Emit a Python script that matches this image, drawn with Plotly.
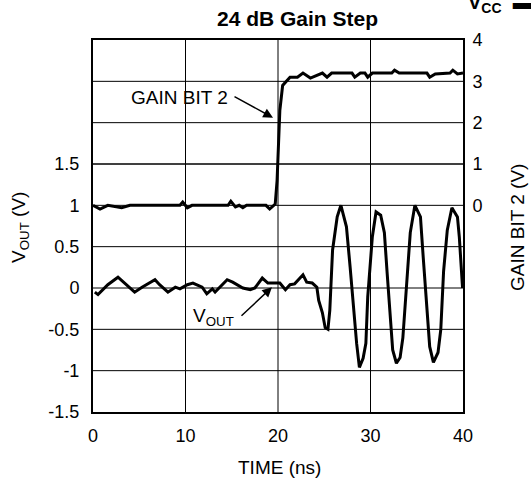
import plotly.graph_objects as go

# VOUT trace (left axis, V) vs time (ns)
vout_t = [0.2, 0.54, 1.6, 2.7, 4.5, 5.3, 6.7, 7.2, 8.1, 8.9, 9.4, 10.2, 10.8, 11.8, 12.3, 12.9,
          13.2, 14.5, 15.1, 16.2, 17.0, 17.5, 18.3, 18.9, 19.4, 20.2, 20.8, 21.3, 21.8, 22.7,
          23.1, 23.7, 24.2, 24.4, 24.8, 25.1, 25.4, 25.6, 25.9, 26.4, 26.8, 27.4, 27.8, 28.1,
          28.5, 28.8, 29.2, 29.5, 29.7, 30.2, 30.6, 31.1, 31.5, 31.8, 32.1, 32.4, 32.8, 33.2,
          33.5, 33.9, 34.3, 34.8, 35.4, 35.7, 36.1, 36.4, 36.8, 37.3, 37.6, 37.9, 38.3, 38.8,
          39.4, 39.6, 39.95]
vout_v = [-0.05, -0.08, 0.04, 0.13, -0.05, 0.01, 0.10, 0.04, -0.05, 0.01, -0.01, 0.04, 0.06,
          0.01, -0.07, -0.01, -0.05, 0.10, 0.07, 0.00, -0.02, 0.00, 0.12, 0.06, 0.06, 0.06,
          -0.02, 0.04, 0.05, 0.16, 0.07, 0.06, 0.01, -0.15, -0.30, -0.48, -0.50, -0.27, 0.46,
          0.86, 1.00, 0.74, 0.25, -0.15, -0.67, -0.96, -0.85, -0.67, -0.11, 0.62, 0.92, 0.88,
          0.67, 0.18, -0.35, -0.75, -0.91, -0.84, -0.60, -0.02, 0.67, 1.00, 0.86, 0.37, -0.23,
          -0.71, -0.90, -0.78, -0.50, 0.20, 0.70, 0.97, 0.86, 0.62, 0.00]

# GAIN BIT 2 trace (right axis, V) vs time (ns)
gain_t = [0.0, 0.76, 1.6, 3.1, 4.0, 9.4, 9.7, 10.2, 10.7, 14.6, 14.9, 15.4, 15.8, 16.2, 16.6,
          18.7, 19.1, 19.7, 19.9, 20.2, 20.5, 21.3, 22.1, 22.7, 23.5, 24.1, 24.8, 25.3, 25.8,
          28.0, 28.3, 28.9, 29.4, 29.7, 30.2, 32.3, 32.6, 33.1, 36.1, 36.4, 37.0, 38.6, 38.9,
          39.4, 40.0]
gain_v = [0.00, -0.09, 0.00, -0.06, 0.00, 0.00, 0.08, -0.06, 0.00, 0.00, 0.10, -0.04, 0.00,
          -0.06, 0.00, 0.00, -0.09, 0.03, 0.60, 2.30, 2.90, 3.10, 3.10, 3.20, 3.08, 3.13, 3.20,
          3.10, 3.20, 3.20, 3.10, 3.20, 3.20, 3.10, 3.20, 3.20, 3.27, 3.20, 3.20, 3.10, 3.18,
          3.20, 3.27, 3.18, 3.20]

x_ticks = [0, 10, 20, 30, 40]
left_ticks = [-1.5, -1, -0.5, 0, 0.5, 1, 1.5]
left_labels = ["-1.5", "-1", "-0.5", "0", "0.5", "1", "1.5"]
right_ticks = [0, 1, 2, 3, 4]

FONT = "Liberation Sans, Arial, sans-serif"

fig = go.Figure()
fig.add_trace(go.Scatter(x=gain_t, y=gain_v, mode="lines", yaxis="y2",
                         line=dict(color="black", width=3), showlegend=False))
fig.add_trace(go.Scatter(x=vout_t, y=vout_v, mode="lines",
                         line=dict(color="black", width=3), showlegend=False))

fig.update_layout(
    width=531, height=482,
    margin=dict(l=93, r=68, t=40, b=70),
    paper_bgcolor="white", plot_bgcolor="white",
    font=dict(family=FONT, size=18, color="black"),
    xaxis=dict(range=[0, 40], tickvals=x_ticks, showgrid=False,
               showline=True, linecolor="black", linewidth=2, mirror=True,
               ticks="outside", ticklen=6, tickcolor="rgba(0,0,0,0)", zeroline=False,
               tickfont=dict(size=18)),
    yaxis=dict(range=[-1.5, 3.0], tickvals=left_ticks, ticktext=left_labels,
               showgrid=False,
               showline=True, linecolor="black", linewidth=2, mirror=True,
               ticks="outside", ticklen=8, tickcolor="rgba(0,0,0,0)", zeroline=False,
               tickfont=dict(size=18)),
    yaxis2=dict(range=[-5, 4], tickvals=right_ticks, overlaying="y", side="right",
                showgrid=False, zeroline=False,
                ticks="outside", ticklen=5, tickcolor="rgba(0,0,0,0)",
                tickfont=dict(size=18)),
)

# grid lines at the tick positions of each axis
shapes = []
for xv in x_ticks[1:-1]:
    shapes.append(dict(type="line", xref="x", yref="paper", x0=xv, x1=xv, y0=0, y1=1,
                       line=dict(color="black", width=1), layer="between"))
for yv in left_ticks[1:]:
    shapes.append(dict(type="line", xref="paper", yref="y", x0=0, x1=1, y0=yv, y1=yv,
                       line=dict(color="black", width=1), layer="between"))
for yv in right_ticks[1:-1]:
    shapes.append(dict(type="line", xref="paper", yref="y2", x0=0, x1=1, y0=yv, y1=yv,
                       line=dict(color="black", width=1), layer="between"))
fig.update_layout(shapes=shapes)

ann = []
# title
ann.append(dict(text="<b>24 dB Gain Step</b>", xref="paper", yref="paper", x=0.554, y=1.059,
                showarrow=False, font=dict(size=21), xanchor="center", yanchor="middle"))
# cut-off V_CC label at top right
ann.append(dict(text="<b>V<sub>CC</sub>  ▬</b>", xref="paper", yref="paper", x=1.008, y=1.137,
                showarrow=False, font=dict(size=20), xanchor="left", yanchor="top"))
# axis titles
ann.append(dict(text="V<sub>OUT</sub> (V)", xref="paper", yref="paper", x=-0.197, y=0.495,
                textangle=-90, showarrow=False, font=dict(size=19), xanchor="center", yanchor="middle"))
ann.append(dict(text="GAIN BIT 2 (V)", xref="paper", yref="paper", x=1.149, y=0.495,
                textangle=-90, showarrow=False, font=dict(size=19), xanchor="center", yanchor="middle"))
ann.append(dict(text="TIME (ns)", xref="paper", yref="paper", x=0.505, y=-0.15,
                showarrow=False, font=dict(size=19), xanchor="center", yanchor="middle"))
# in-plot labels
ann.append(dict(text="GAIN BIT 2", x=9.4, y=2.30, xref="x", yref="y", showarrow=False,
                font=dict(size=19), xanchor="center", yanchor="middle"))
ann.append(dict(text="", x=19.46, y=2.06, xref="x", yref="y", ax=-40, ay=-22,
                showarrow=True, arrowhead=2, arrowsize=1.3, arrowwidth=1.5, arrowcolor="black"))
ann.append(dict(text="V<sub>OUT</sub>", x=13.0, y=-0.35, xref="x", yref="y", showarrow=False,
                font=dict(size=19), xanchor="center", yanchor="middle"))
ann.append(dict(text="", x=19.35, y=0.01, xref="x", yref="y", ax=-32, ay=30,
                showarrow=True, arrowhead=2, arrowsize=1.3, arrowwidth=1.5, arrowcolor="black"))
fig.update_layout(annotations=ann)

fig.write_html("out.html", config={"displayModeBar": False},
               post_script="document.body.style.margin='0';")
